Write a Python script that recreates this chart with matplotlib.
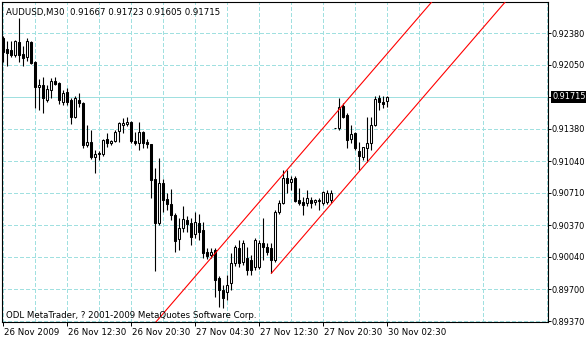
import numpy as np
import matplotlib
matplotlib.use('Agg')
import matplotlib.pyplot as plt
from matplotlib.transforms import ScaledTranslation, blended_transform_factory

# AUDUSD M30 candles
opens = [0.92328, 0.92213, 0.92202, 0.92150, 0.92286, 0.92161, 0.92129, 0.92286, 0.92077, 0.91816,
         0.91837, 0.91680, 0.91784, 0.91879, 0.91858, 0.91659, 0.91764, 0.91680, 0.91502, 0.91680,
         0.91649, 0.91210, 0.91241, 0.91084, 0.91116, 0.91116, 0.91272, 0.91231, 0.91252, 0.91356,
         0.91419, 0.91429, 0.91450, 0.91252, 0.91231, 0.91346, 0.91241, 0.91220, 0.90854, 0.90395,
         0.90813, 0.90645, 0.90593, 0.90478, 0.90227, 0.90342, 0.90426, 0.90395, 0.90280, 0.90395,
         0.90321, 0.90092, 0.90060, 0.90112, 0.89820, 0.89694, 0.89674, 0.89768, 0.89977, 0.90133,
         0.89987, 0.90029, 0.90008, 0.89935, 0.89935, 0.90186, 0.90144, 0.90133, 0.90008, 0.90510,
         0.90604, 0.90865, 0.90823, 0.90865, 0.90635, 0.90614, 0.90604, 0.90635, 0.90614, 0.90625,
         0.90604, 0.90614, 0.90635, 0.91387, 0.91387, 0.91617, 0.91523, 0.91272, 0.91335, 0.91147,
         0.91084, 0.91178, 0.91231, 0.91419, 0.91701, 0.91659, 0.91667]
highs = [0.92349, 0.92297, 0.92297, 0.92307, 0.92537, 0.92244, 0.92328, 0.92297, 0.92088, 0.91899,
         0.91920, 0.91837, 0.91910, 0.91920, 0.91868, 0.91784, 0.91805, 0.91701, 0.91722, 0.91753,
         0.91659, 0.91419, 0.91366, 0.91157, 0.91147, 0.91272, 0.91335, 0.91262, 0.91366, 0.91450,
         0.91492, 0.91502, 0.91461, 0.91346, 0.91450, 0.91356, 0.91272, 0.91220, 0.90969, 0.91074,
         0.90854, 0.90708, 0.90750, 0.90499, 0.90447, 0.90572, 0.90468, 0.90447, 0.90510, 0.90489,
         0.90405, 0.90133, 0.90133, 0.90133, 0.89841, 0.89747, 0.89851, 0.90081, 0.90165, 0.90217,
         0.90217, 0.90144, 0.90060, 0.90238, 0.90217, 0.90447, 0.90186, 0.90186, 0.90530, 0.90635,
         0.90948, 0.90948, 0.90886, 0.90886, 0.90760, 0.90666, 0.90739, 0.90666, 0.90645, 0.90656,
         0.90729, 0.90739, 0.90739, 0.91387, 0.91701, 0.91649, 0.91544, 0.91419, 0.91346, 0.91241,
         0.91189, 0.91502, 0.91502, 0.91722, 0.91732, 0.91722, 0.91723]
lows = [0.92077, 0.92035, 0.92129, 0.92129, 0.92077, 0.92035, 0.92088, 0.92056, 0.91596, 0.91575,
        0.91544, 0.91659, 0.91701, 0.91837, 0.91638, 0.91628, 0.91628, 0.91429, 0.91492, 0.91607,
        0.91178, 0.91189, 0.91063, 0.90917, 0.91053, 0.91095, 0.91189, 0.91210, 0.91241, 0.91241,
        0.91335, 0.91408, 0.91231, 0.91210, 0.91157, 0.91178, 0.91178, 0.90656, 0.89893, 0.90374,
        0.90510, 0.90530, 0.90426, 0.90092, 0.90112, 0.90301, 0.90301, 0.90165, 0.90238, 0.90217,
        0.90029, 0.90018, 0.90029, 0.89621, 0.89517, 0.89506, 0.89590, 0.89694, 0.89945, 0.89935,
        0.89956, 0.89851, 0.89851, 0.89903, 0.89914, 0.90008, 0.90060, 0.89872, 0.89987, 0.90489,
        0.90593, 0.90708, 0.90739, 0.90614, 0.90583, 0.90478, 0.90572, 0.90551, 0.90583, 0.90530,
        0.90583, 0.90593, 0.90604, 0.91387, 0.91366, 0.91492, 0.91178, 0.91231, 0.91157, 0.90948,
        0.91053, 0.91032, 0.91157, 0.91408, 0.91575, 0.91596, 0.91605]
closes = [0.92182, 0.92171, 0.92150, 0.92297, 0.92150, 0.92119, 0.92297, 0.92067, 0.91816, 0.91837,
          0.91701, 0.91795, 0.91879, 0.91847, 0.91680, 0.91753, 0.91659, 0.91502, 0.91701, 0.91649,
          0.91210, 0.91241, 0.91084, 0.91116, 0.91126, 0.91262, 0.91231, 0.91252, 0.91346, 0.91440,
          0.91440, 0.91450, 0.91252, 0.91231, 0.91346, 0.91231, 0.91220, 0.90844, 0.90395, 0.90813,
          0.90635, 0.90593, 0.90478, 0.90207, 0.90342, 0.90436, 0.90384, 0.90248, 0.90405, 0.90301,
          0.90081, 0.90050, 0.90092, 0.89799, 0.89694, 0.89611, 0.89747, 0.89977, 0.90144, 0.89977,
          0.90186, 0.89903, 0.89903, 0.90217, 0.90186, 0.90144, 0.90092, 0.90008, 0.90510, 0.90604,
          0.90865, 0.90813, 0.90854, 0.90625, 0.90604, 0.90583, 0.90656, 0.90604, 0.90635, 0.90635,
          0.90719, 0.90708, 0.90708, 0.91387, 0.91607, 0.91502, 0.91262, 0.91325, 0.91178, 0.91095,
          0.91189, 0.91231, 0.91419, 0.91690, 0.91659, 0.91638, 0.91715]

time_labels = ['26 Nov 2009', '26 Nov 12:30', '26 Nov 20:30', '27 Nov 04:30',
               '27 Nov 12:30', '27 Nov 20:30', '30 Nov 02:30']
time_label_bars = [0, 16, 32, 48, 64, 80, 96]
price_ticks = [0.92380, 0.92050, 0.91715, 0.91380, 0.91040, 0.90710, 0.90370, 0.90040, 0.89700, 0.89370]
last_price = 0.91715

# equidistant channel anchor points (bar index, price)
chan_upper_x = [40, 100]
chan_upper_y = [0.89446, 0.92356]
chan_lower_x = [67.1, 140]
chan_lower_y = [0.89869, 0.93405]

gridc = '#a0e0e0'
plt.rcParams['font.family'] = 'DejaVu Sans'
plt.rcParams['font.size'] = 6.2

fig = plt.figure(figsize=(5.86, 3.40), dpi=100)
ax = fig.add_axes([2/586, 18/340, 546/586, 320/340])

o = np.array(opens); h = np.array(highs); l = np.array(lows); c = np.array(closes)
idx = np.arange(len(o))
bull = c >= o

ax.vlines(idx, l, h, color='black', linewidth=0.8, zorder=3)
ax.bar(idx, np.abs(c - o), 0.55, bottom=np.minimum(o, c),
       color=np.where(bull, 'white', 'black'), edgecolor='black', linewidth=0.75, zorder=4)

ax.axline((chan_upper_x[0], chan_upper_y[0]), (chan_upper_x[1], chan_upper_y[1]),
          color='red', linewidth=0.8, zorder=5)
ax.plot(chan_lower_x, chan_lower_y, color='red', linewidth=0.8, zorder=5)

ax.axhline(last_price, color=gridc, linewidth=0.72, antialiased=False, zorder=1)

ax.set_xlim(-0.25, 136.25)
ax.set_ylim(0.89360, 0.92704)

ax.set_xticks(time_label_bars)
ax.set_xticklabels(time_labels)
ax.set_xticks(np.arange(8, 137, 16), minor=True)
ax.set_yticks(price_ticks)
ax.set_yticklabels(['%.5f' % p if p != last_price else '' for p in price_ticks])

grid_kw = dict(color=gridc, linestyle=(0, (4, 2.2)), linewidth=0.72, antialiased=False, zorder=0)
ax.grid(True, axis='x', which='both', **grid_kw)
ax.grid(True, axis='y', which='major', **grid_kw)
ax.set_axisbelow(True)

ax.yaxis.tick_right()
ax.tick_params(axis='y', length=2, width=0.7, pad=0.8, labelsize=5.9)
ax.tick_params(axis='x', which='major', length=3, width=0.7, pad=1, labelsize=6.2)
ax.tick_params(axis='x', which='minor', length=0)
for lbl in ax.get_xticklabels():
    lbl.set_horizontalalignment('left')
    lbl.set_transform(lbl.get_transform() + ScaledTranslation(1.5/100, 0, fig.dpi_scale_trans))

for s in ax.spines.values():
    s.set_linewidth(0.8)
    s.set_color('black')

trans = blended_transform_factory(ax.transAxes, ax.transData)
ax.text(1.0 + 4.5/546, last_price, '%.5f' % last_price, transform=trans, color='white',
        va='center', ha='left', fontsize=5.9,
        bbox=dict(facecolor='black', edgecolor='none', pad=1.1), clip_on=False)

fig.text(6/586, 1 - 15/340, 'AUDUSD,M30  0.91667 0.91723 0.91605 0.91715', va='baseline', ha='left')
fig.text(6/586, 1 - 318/340, 'ODL MetaTrader, ? 2001-2009 MetaQuotes Software Corp.', va='baseline', ha='left')

fig.savefig('out.png', dpi=100)
